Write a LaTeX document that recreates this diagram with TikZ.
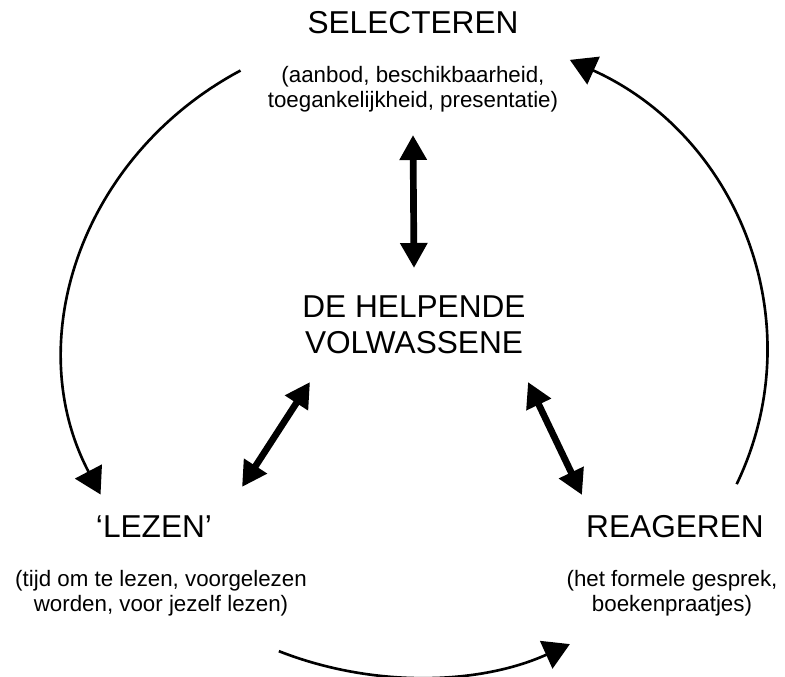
\documentclass[tikz,border=0pt]{standalone}
\usepackage{fontspec}
\setmainfont{Liberation Sans}
\usetikzlibrary{arrows.meta,positioning}

\begin{document}
\begin{tikzpicture}[>={Triangle[length=0.52cm,width=0.6cm]},
    title/.style={inner sep=0pt,align=center,font=\fontsize{18}{20.5}\selectfont},
    note/.style={inner sep=0pt,align=center,font=\fontsize{12.7}{14.2}\selectfont},
    cyc/.style={line width=1.5pt,->},
    dbl/.style={line width=3.8pt,{Triangle[length=0.5cm,width=0.52cm]}-{Triangle[length=0.5cm,width=0.52cm]}}]

    \useasboundingbox (0,0) rectangle (15.7,13.54);

    \path
    (8.26,13.08)  node[title] (sel) {SELECTEREN}
    (8.26,11.75)  node[note]  (selsub) {(aanbod, beschikbaarheid,\\toegankelijkheid, presentatie)}
    (8.28,7.05)   node[title] (help) {DE HELPENDE\\VOLWASSENE}
    (3.08,3.0)    node[title] (lez) {‘LEZEN’}
    (3.22,1.68)   node[note]  (lezsub) {(tijd om te lezen, voorgelezen\\worden, voor jezelf lezen)}
    (13.5,3.0)    node[title] (rea) {REAGEREN}
    (13.44,1.68)  node[note]  (reasub) {(het formele gesprek,\\boekenpraatjes)};

    \coordinate (hub) at (8.32,6.5);

\draw[dbl] ([yshift=-0.91cm]selsub.center) -- ([yshift=1.13cm]help.center);
\draw[dbl] ([shift={(-2.08,-1.15)}]help.center) -- ([shift={(1.76,0.8)}]lez.center);
\draw[dbl] ([shift={(2.28,-1.15)}]help.center) -- ([shift={(-1.86,0.64)}]rea.center);

\draw[cyc] ([shift={(120:7.02 and 6.5)}]hub) arc[start angle=120,end angle=206,x radius=7.02,y radius=6.5];
\draw[cyc] ([shift={(247:7.02 and 6.5)}]hub) arc[start angle=247,end angle=296,x radius=7.02,y radius=6.5];
\draw[cyc] ([shift={(-24:7.02 and 6.5)}]hub) arc[start angle=-24,end angle=64,x radius=7.02,y radius=6.5];

\end{tikzpicture}
\end{document}
